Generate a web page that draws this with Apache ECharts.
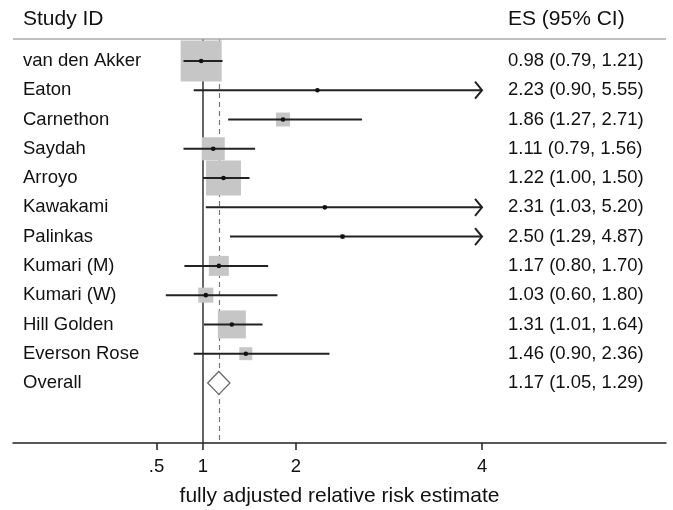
<!DOCTYPE html>
<html>
<head>
<meta charset="utf-8">
<title>Forest plot</title>
<script src="https://cdn.jsdelivr.net/npm/echarts@6/dist/echarts.min.js"></script>
<style>
    html, body { margin: 0; padding: 0; background: #fff; }
    #main { width: 673px; height: 510px; }
</style>
</head>
<body>
<div id="main"></div>
<script>
// study rows
var studies = ['van den Akker', 'Eaton', 'Carnethon', 'Saydah', 'Arroyo', 'Kawakami',
    'Palinkas', 'Kumari (M)', 'Kumari (W)', 'Hill Golden', 'Everson Rose'];
var es    = [0.98, 2.23, 1.86, 1.11, 1.22, 2.31, 2.50, 1.17, 1.03, 1.31, 1.46];
var lower = [0.79, 0.90, 1.27, 0.79, 1.00, 1.03, 1.29, 0.80, 0.60, 1.01, 0.90];
var upper = [1.21, 5.55, 2.71, 1.56, 1.50, 5.20, 4.87, 1.70, 1.80, 1.64, 2.36];
// weights (%), box area follows them
var weights = [32.0, 0.2, 3.7, 10.1, 23.3, 0.2, 0.5, 7.6, 4.3, 14.9, 3.2];

// pooled estimate
var overallLabel = 'Overall';
var overallEs = 1.17;
var overallLower = 1.05;
var overallUpper = 1.29;

var tickValues = [0.5, 1, 2, 4];
var tickLabels = ['.5', '1', '2', '4'];
var clipMax = 4;   // CI beyond this gets an arrow

var FONT = '"Liberation Sans", Arial, Helvetica, sans-serif';

function fmt(e, l, u) {
    return e.toFixed(2) + ' (' + l.toFixed(2) + ', ' + u.toFixed(2) + ')';
}

var rowData = [];
for (var i = 0; i < studies.length; i++) {
    rowData.push([es[i], i, lower[i], upper[i], weights[i]]);
}

function renderRow(params, api) {
    var i = api.value(1);
    var c = api.coord([api.value(0), i]);
    var lo = api.coord([api.value(2), i]);
    var hiVal = api.value(3);
    var arrow = hiVal > clipMax;
    var hi = api.coord([arrow ? clipMax : hiVal, i]);
    var side = 7.25 * Math.sqrt(api.value(4));
    var cs = params.coordSys;
    var children = [{
        type: 'rect',
        shape: { x: c[0] - side / 2, y: c[1] - side / 2, width: side, height: side },
        style: { fill: '#c6c6c6' }
    }, {
        type: 'line',
        shape: { x1: lo[0], y1: c[1], x2: hi[0], y2: c[1] },
        style: { stroke: '#222', lineWidth: 2 }
    }, {
        type: 'circle',
        shape: { cx: c[0], cy: c[1], r: 2.3 },
        style: { fill: '#111' }
    }, {
        type: 'text',
        x: cs.x + 10, y: c[1],
        style: { text: studies[i], font: '18.5px ' + FONT, fill: '#111', verticalAlign: 'middle' }
    }, {
        type: 'text',
        x: cs.x + cs.width - 158, y: c[1],
        style: { text: fmt(es[i], lower[i], upper[i]), font: '18.5px ' + FONT, fill: '#111', verticalAlign: 'middle' }
    }];
    if (arrow) {
        children.push({
            type: 'polyline',
            shape: { points: [[hi[0] - 7, c[1] - 8.5], [hi[0], c[1]], [hi[0] - 7, c[1] + 8.5]] },
            style: { stroke: '#222', lineWidth: 2, fill: null }
        });
    }
    return { type: 'group', children: children };
}

function renderOverall(params, api) {
    var row = studies.length;
    var c = api.coord([overallEs, row]);
    var lo = api.coord([overallLower, row]);
    var hi = api.coord([overallUpper, row]);
    var h = 11.5;
    var cs = params.coordSys;
    return {
        type: 'group',
        children: [{
            type: 'polygon',
            shape: { points: [[lo[0], c[1]], [c[0], c[1] - h], [hi[0], c[1]], [c[0], c[1] + h]] },
            style: { fill: '#fff', stroke: '#666', lineWidth: 1.2 }
        }, {
            type: 'text',
            x: cs.x + 10, y: c[1],
            style: { text: overallLabel, font: '18.5px ' + FONT, fill: '#111', verticalAlign: 'middle' }
        }, {
            type: 'text',
            x: cs.x + cs.width - 158, y: c[1],
            style: { text: fmt(overallEs, overallLower, overallUpper), font: '18.5px ' + FONT, fill: '#111', verticalAlign: 'middle' }
        }]
    };
}

var myChart = echarts.init(document.getElementById('main'), null, { renderer: 'canvas' });

var option = {
    animation: false,
    backgroundColor: '#fff',
    grid: { left: 13, right: 7, top: 39, bottom: 67, outerBoundsMode: 'none', containLabel: false },
    xAxis: {
        type: 'value',
        min: -1.043,
        max: 5.978,
        axisLine: { show: true, onZero: false, lineStyle: { color: '#222', width: 1.5 } },
        axisTick: { show: true, customValues: tickValues, length: 7, lineStyle: { color: '#222', width: 1.5 } },
        axisLabel: {
            customValues: tickValues,
            color: '#111',
            fontSize: 18.5,
            fontFamily: FONT,
            margin: 14,
            formatter: function (v) {
                var k = tickValues.indexOf(v);
                return k >= 0 ? tickLabels[k] : '';
            }
        },
        splitLine: { show: false },
        name: 'fully adjusted relative risk estimate',
        nameLocation: 'middle',
        nameGap: 43,
        nameTextStyle: { color: '#111', fontSize: 21, fontFamily: FONT }
    },
    yAxis: {
        type: 'value',
        inverse: true,
        min: -0.75,
        max: 13.05,
        show: false
    },
    graphic: [{
        type: 'text', left: 23, top: 9,
        style: { text: 'Study ID', font: '21px ' + FONT, fill: '#111' }
    }, {
        type: 'text', left: 508, top: 9,
        style: { text: 'ES (95% CI)', font: '21px ' + FONT, fill: '#111' }
    }],
    series: [{
        // reference lines: no effect, pooled estimate, header rule
        type: 'line',
        data: [],
        z: 1,
        markLine: {
            z: 1,
            silent: true,
            symbol: 'none',
            label: { show: false },
            data: [
                { xAxis: 1, lineStyle: { color: '#333', width: 1.5, type: 'solid' } },
                { xAxis: overallEs, lineStyle: { color: '#777', width: 1.2, type: [5, 4] } },
                { yAxis: -0.75, lineStyle: { color: '#aaa', width: 1.5, type: 'solid' } }
            ]
        }
    }, {
        type: 'custom',
        z: 3,
        renderItem: renderRow,
        data: rowData,
        clip: false
    }, {
        type: 'custom',
        z: 4,
        renderItem: renderOverall,
        data: [[overallEs, studies.length]],
        clip: false
    }]
};

myChart.setOption(option);
</script>
</body>
</html>
